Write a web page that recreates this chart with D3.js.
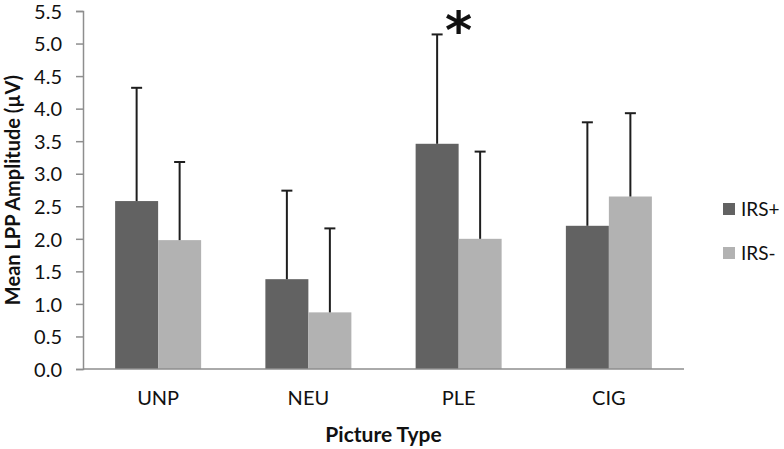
<!DOCTYPE html>
<html>
<head>
<meta charset="utf-8">
<script src="https://cdn.jsdelivr.net/npm/d3@7"></script>
<style>
  html, body { margin: 0; padding: 0; background: #fff; }
  svg { display: block; }
  text { font-family: Lato, "Open Sans", sans-serif; fill: #111; }
</style>
</head>
<body>
<svg id="chart" width="784" height="449"></svg>
<script>
const categories = ["UNP", "NEU", "PLE", "CIG"];
const seriesNames = ["IRS+", "IRS-"];
const irsPlus = [2.58, 1.38, 3.46, 2.20];
const irsMinus = [1.98, 0.87, 2.00, 2.65];
const irsPlusErr = [1.74, 1.36, 1.68, 1.59];
const irsMinusErr = [1.20, 1.29, 1.34, 1.28];
const yTicks = [0, 0.5, 1, 1.5, 2, 2.5, 3, 3.5, 4, 4.5, 5, 5.5];
const colors = ["#626262", "#b2b2b2"];
const yTitle = "Mean LPP Amplitude (µV)";
const xTitle = "Picture Type";
const significant = ["PLE"];

const values = [irsPlus, irsMinus];
const errs = [irsPlusErr, irsMinusErr];
const data = categories.map((c, i) => ({
  cat: c,
  items: seriesNames.map((s, j) => ({ series: s, idx: j, value: values[j][i], err: errs[j][i] }))
}));

const svg = d3.select("#chart");
const mLeft = 83, mRight = 684, mTop = 11, mBottom = 369;

const x0 = d3.scaleBand().domain(categories).range([mLeft, mRight])
  .paddingInner(0.4276).paddingOuter(0.2138);
const x1 = d3.scaleBand().domain(seriesNames).range([0, x0.bandwidth()]).padding(0);
const y = d3.scaleLinear().domain([0, 5.5]).range([mBottom, mTop]);

// Bars
const groups = svg.append("g").selectAll("g").data(data).join("g")
  .attr("transform", d => `translate(${x0(d.cat)},0)`);

groups.selectAll("rect").data(d => d.items).join("rect")
  .attr("x", d => x1(d.series))
  .attr("y", d => y(d.value))
  .attr("width", x1.bandwidth())
  .attr("height", d => y(0) - y(d.value))
  .attr("fill", d => colors[d.idx]);

// Error bars (upper only)
const capW = 11;
groups.selectAll("g.err").data(d => d.items).join("g").attr("class", "err")
  .each(function(d) {
    const g = d3.select(this);
    const cx = x1(d.series) + x1.bandwidth() / 2;
    g.append("line").attr("x1", cx).attr("x2", cx)
      .attr("y1", y(d.value)).attr("y2", y(d.value + d.err))
      .attr("stroke", "#1e1e1e").attr("stroke-width", 2);
    g.append("line").attr("x1", cx - capW / 2).attr("x2", cx + capW / 2)
      .attr("y1", y(d.value + d.err)).attr("y2", y(d.value + d.err))
      .attr("stroke", "#1e1e1e").attr("stroke-width", 2);
  });

// Significance asterisk
significant.forEach(c => {
  const i = categories.indexOf(c);
  const top0 = irsPlus[i] + irsPlusErr[i];
  const cx = x0(c) + x1("IRS+") + x1.bandwidth();
  svg.append("text")
    .attr("x", cx)
    .attr("y", y(top0) + 14)
    .attr("text-anchor", "middle")
    .style("font-family", "'DejaVu Sans', sans-serif")
    .style("font-weight", "bold")
    .style("font-size", "52px")
    .text("*");
});

// Y axis
const yAxis = d3.axisLeft(y).tickValues(yTicks).tickFormat(d3.format(".1f"))
  .tickSize(7).tickPadding(14);
const ya = svg.append("g").attr("transform", `translate(${mLeft},0)`).call(yAxis);
ya.select(".domain").attr("stroke", "#8e8e8e").attr("stroke-width", 1.5);
ya.selectAll(".tick line").attr("stroke", "#8e8e8e").attr("stroke-width", 1.5);
ya.selectAll(".tick text").style("font-family", "Lato, 'Open Sans', sans-serif")
  .style("font-size", "20px").attr("fill", "#111").attr("dy", "0.36em");

// X axis
const xAxis = d3.axisBottom(x0).tickSize(0).tickPadding(22);
const xa = svg.append("g").attr("transform", `translate(0,${mBottom})`).call(xAxis);
xa.select(".domain").attr("stroke", "#8e8e8e").attr("stroke-width", 1.5)
  .attr("d", `M${mLeft},0H${mRight}`);
xa.selectAll(".tick text").style("font-family", "Lato, 'Open Sans', sans-serif")
  .style("font-size", "20px").attr("fill", "#111");

// Axis titles
svg.append("text")
  .attr("transform", `translate(20,${(mTop + mBottom) / 2}) rotate(-90)`)
  .attr("text-anchor", "middle")
  .style("font-weight", "bold").style("font-size", "20px")
  .text(yTitle);

svg.append("text")
  .attr("x", (mLeft + mRight) / 2).attr("y", 441.5)
  .attr("text-anchor", "middle")
  .style("font-weight", "bold").style("font-size", "21px")
  .text(xTitle);

// Legend
const legend = svg.append("g").attr("transform", "translate(723,203)");
seriesNames.forEach((s, j) => {
  const g = legend.append("g").attr("transform", `translate(0,${j * 44})`);
  g.append("rect").attr("width", 12).attr("height", 12).attr("fill", colors[j]);
  g.append("text").attr("x", 18).attr("y", 6).attr("dy", "0.35em")
    .style("font-size", "19px").text(s);
});
</script>
</body>
</html>
